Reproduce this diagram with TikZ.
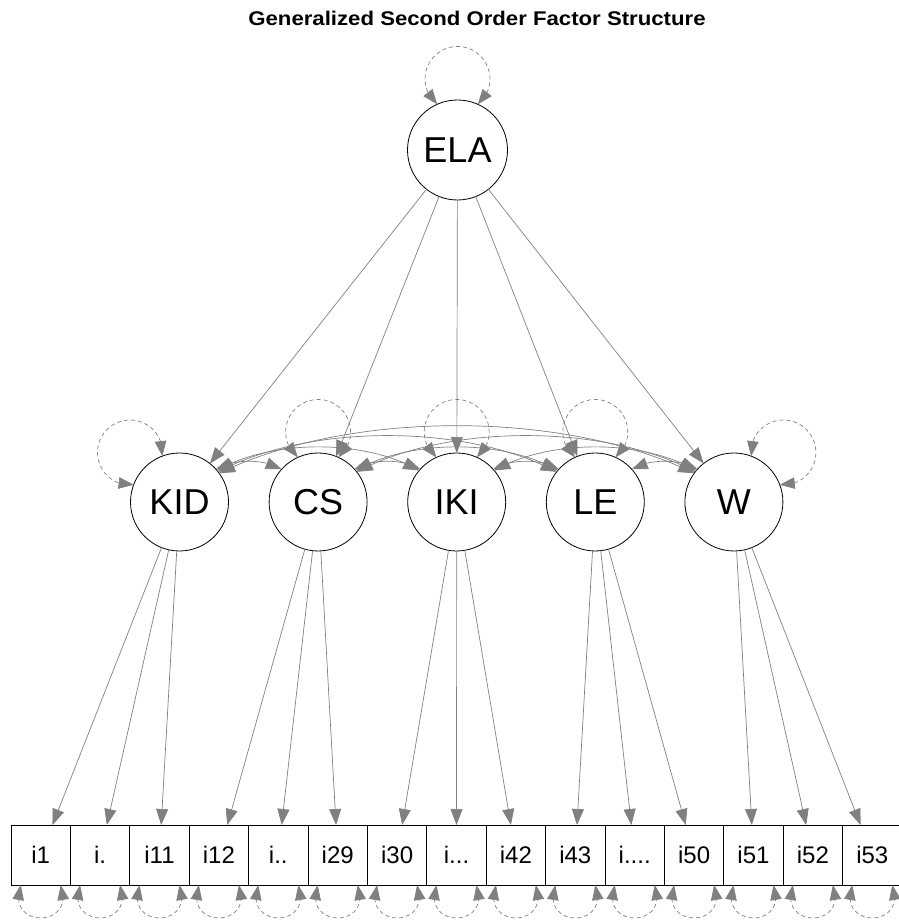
\documentclass[tikz,border=0pt]{standalone}
\usepackage{fontspec}
\usepackage{graphicx}
\setmainfont{Liberation Sans}
\usetikzlibrary{arrows.meta,calc,bending}
\definecolor{edgegray}{HTML}{808080}
\begin{document}
\begin{tikzpicture}[x=1pt,y=1pt,
  lat/.style={circle, draw=black, line width=0.8pt, minimum size=98pt, inner sep=0pt, outer sep=0pt, font=\fontsize{36}{36}\selectfont},
  toplat/.style={lat, minimum size=100pt},
  man/.style={rectangle, draw=black, line width=0.8pt, minimum width=59.4pt, minimum height=60pt, inner sep=0pt, outer sep=0pt, font=\fontsize{24}{24}\selectfont},
  load/.style={draw=edgegray, line width=0.7pt, -{Triangle[length=16pt,width=12pt]}},
  cov/.style={draw=edgegray, line width=0.7pt, {Triangle[length=16pt,width=12pt]}-{Triangle[length=16pt,width=12pt]}},
  resid/.style={draw=edgegray, line width=0.7pt, dash pattern=on 4pt off 3pt, {Triangle[length=15pt,width=11.5pt]}-{Triangle[length=15pt,width=11.5pt]}}]
\useasboundingbox (0,0) rectangle (898,924);

\node (title) at (477,906) {\scalebox{1.12}[1]{\fontsize{19.8}{20}\selectfont\bfseries Generalized Second Order Factor Structure}};

\node[toplat] (ELA) at (457.5,774) {ELA};
\node[lat] (KID) at (179.5,422) {KID};
\node[lat] (CS)  at (318.1,422) {CS};
\node[lat] (IKI) at (456.7,422) {IKI};
\node[lat] (LE)  at (595.3,422) {LE};
\node[lat] (W)   at (733.9,422) {W};

\node[man] (b1)  at (40.7,69)  {i1};
\node[man] (b2)  at (100.1,69) {i.};
\node[man] (b3)  at (159.5,69) {i11};
\node[man] (b4)  at (218.9,69) {i12};
\node[man] (b5)  at (278.3,69) {i..};
\node[man] (b6)  at (337.7,69) {i29};
\node[man] (b7)  at (397.1,69) {i30};
\node[man] (b8)  at (456.5,69) {i...};
\node[man] (b9)  at (515.9,69) {i42};
\node[man] (b10) at (575.3,69) {i43};
\node[man] (b11) at (634.7,69) {i....};
\node[man] (b12) at (694.1,69) {i50};
\node[man] (b13) at (753.5,69) {i51};
\node[man] (b14) at (812.9,69) {i52};
\node[man] (b15) at (872.3,69) {i53};

% second-order loadings
\foreach \t in {KID,CS,IKI,LE,W}
  \draw[load] (ELA) -- (\t);

% first-order loadings
\foreach \t in {b1,b2,b3} \draw[load] (KID) -- (\t);
\foreach \t in {b4,b5,b6} \draw[load] (CS) -- (\t);
\foreach \t in {b7,b8,b9} \draw[load] (IKI) -- (\t);
\foreach \t in {b10,b11,b12} \draw[load] (LE) -- (\t);
\foreach \t in {b13,b14,b15} \draw[load] (W) -- (\t);

% covariances between first-order factors
\draw[cov] (KID.42) to[out=32,in=148,looseness=0.78] (CS.138);
\draw[cov] (CS.42)  to[out=32,in=148,looseness=0.78] (IKI.138);
\draw[cov] (IKI.42) to[out=32,in=148,looseness=0.78] (LE.138);
\draw[cov] (LE.42)  to[out=32,in=148,looseness=0.78] (W.138);
\draw[cov] (KID.40) to[out=30,in=150,looseness=0.8] (IKI.140);
\draw[cov] (CS.40)  to[out=30,in=150,looseness=0.8] (LE.140);
\draw[cov] (IKI.40) to[out=30,in=150,looseness=0.8] (W.140);
\draw[cov] (KID.38) to[out=28,in=152,looseness=0.78] (LE.142);
\draw[cov] (CS.38)  to[out=28,in=152,looseness=0.78] (W.142);
\draw[cov] (KID.36) to[out=26,in=154,looseness=0.78] (W.144);

% residual variances of latents
\draw[resid] ($(ELA)+(66:50)$) arc[start angle=308.75, end angle=591.25, radius=32.5];
\draw[resid] ($(KID)+(110.55:49)$) arc[start angle=353.6, end angle=636.4, radius=32.5];
\draw[resid] ($(CS)+(65.55:49)$) arc[start angle=308.6, end angle=591.4, radius=32.5];
\draw[resid] ($(IKI)+(65.55:49)$) arc[start angle=308.6, end angle=591.4, radius=32.5];
\draw[resid] ($(LE)+(65.55:49)$) arc[start angle=308.6, end angle=591.4, radius=32.5];
\draw[resid] ($(W)+(20.55:49)$) arc[start angle=263.6, end angle=546.4, radius=32.5];

% residual variances of items
\foreach \i in {1,...,15}
  \draw[resid] ($(b\i.south)+(-20,0)$) to[out=-110,in=-70,looseness=3.0] ($(b\i.south)+(20,0)$);
\end{tikzpicture}
\end{document}
